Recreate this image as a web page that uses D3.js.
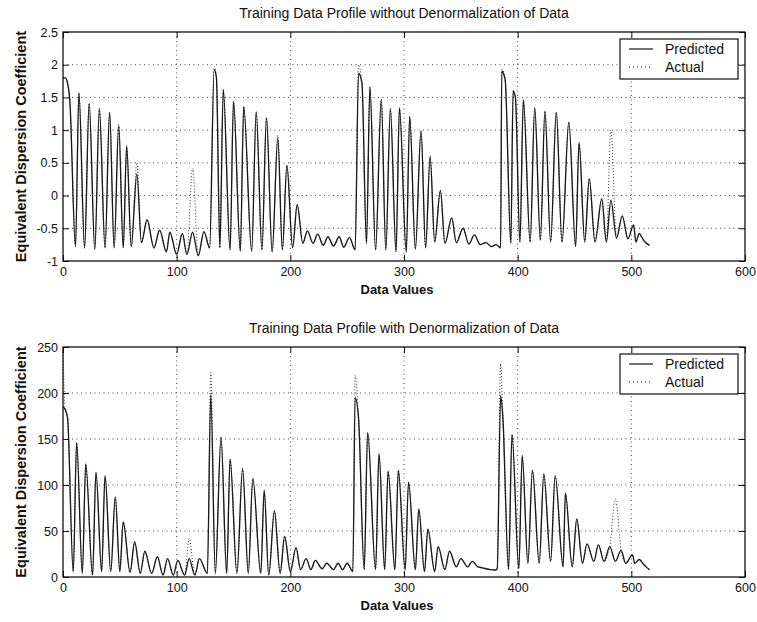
<!DOCTYPE html>
<html>
<head>
<meta charset="utf-8">
<script src="https://cdn.jsdelivr.net/npm/d3@7"></script>
<style>
  body { margin: 0; background: #fff; }
  text { font-family: "Liberation Sans", Arial, Helvetica, sans-serif; fill: #111; }
</style>
</head>
<body>
<svg id="chart" width="757" height="622"></svg>
<script>
// data values (x = data index of each vertex)
const xTicks = [0, 100, 200, 300, 400, 500, 600]
const topYTicks = [-1, -0.5, 0, 0.5, 1, 1.5, 2, 2.5]
const botYTicks = [0, 50, 100, 150, 200, 250]
const legendNames = ["Predicted", "Actual"]

const topX = [0,2,4,6,11,14,19,23,28,32,37,41,45,49,53,56,60,65,69,74,80,85,91,94,100,105,109,114,119,124,129,
  133,135,138,141,147,150,156,159,166,170,175,179,184,189,193,197,202,206,211,215,220,224,229,233,238,243,247,252,257,
  260,263,267,270,275,280,284,288,293,296,302,305,310,315,319,323,327,332,336,342,346,352,357,362,367,372,377,381,385,
  386,389,394,396,398,402,405,411,415,420,424,429,434,439,445,451,454,459,463,468,474,478,482,487,492,497,502,504,507,509,512,516]
const topPredicted = [1.80,1.80,1.72,1.45,-0.78,1.57,-0.80,1.41,-0.82,1.33,-0.80,1.27,-0.80,1.08,-0.80,0.76,-0.78,0.33,-0.72,-0.37,-0.80,-0.53,-0.86,-0.56,-0.90,-0.58,-0.90,-0.56,-0.92,-0.55,-0.80,
  1.92,1.80,-0.80,1.62,-0.83,1.44,-0.85,1.36,-0.85,1.28,-0.83,1.19,-0.86,0.88,-0.83,0.46,-0.80,-0.14,-0.73,-0.54,-0.73,-0.59,-0.76,-0.63,-0.77,-0.63,-0.79,-0.64,-0.83,
  1.87,1.72,-0.73,1.66,-0.83,1.47,-0.83,1.33,-0.86,1.34,-0.86,1.21,-0.82,0.99,-0.80,0.60,-0.71,0.08,-0.73,-0.34,-0.72,-0.50,-0.74,-0.60,-0.75,-0.72,-0.78,-0.75,-0.80,
  1.90,1.77,-0.73,1.60,1.50,-0.71,1.46,-0.71,1.34,-0.68,1.29,-0.71,1.27,-0.71,1.12,-0.78,0.81,-0.71,0.26,-0.71,-0.05,-0.71,-0.07,-0.65,-0.31,-0.66,-0.45,-0.71,-0.58,-0.63,-0.71,-0.76]
const topActual = [1.80,1.80,1.72,1.45,-0.78,1.57,-0.80,1.41,-0.82,1.33,-0.80,1.27,-0.80,1.08,-0.80,0.76,-0.78,0.50,-0.72,-0.37,-0.80,-0.53,-0.86,-0.56,-0.90,-0.58,-0.90,0.42,-0.92,-0.55,-0.80,
  1.97,1.80,-0.80,1.62,-0.83,1.44,-0.85,1.36,-0.85,1.28,-0.83,1.19,-0.86,0.92,-0.83,0.46,-0.80,-0.14,-0.73,-0.54,-0.73,-0.59,-0.76,-0.63,-0.77,-0.63,-0.79,-0.64,-0.83,
  2.00,1.72,-0.73,1.66,-0.83,1.47,-0.83,1.33,-0.86,1.34,-0.86,1.21,-0.82,0.99,-0.80,0.60,-0.71,0.08,-0.73,-0.34,-0.72,-0.50,-0.74,-0.60,-0.75,-0.72,-0.78,-0.75,-0.80,
  1.93,1.77,-0.73,1.60,1.50,-0.71,1.46,-0.71,1.34,-0.68,1.29,-0.71,1.27,-0.71,1.12,-0.78,0.81,-0.71,0.26,-0.71,-0.05,-0.71,1.00,-0.65,-0.31,-0.66,-0.45,-0.71,-0.58,-0.63,-0.71,-0.76]

const botX = [0,2,4,9,12,17,20,26,29,34,37,42,46,50,53,59,63,68,72,78,83,88,92,97,101,107,111,116,120,127,
  130,134,139,144,147,153,158,163,167,174,177,181,186,191,195,200,205,209,214,218,222,228,232,238,242,246,250,255,
  257,260,265,268,275,278,283,286,292,295,301,304,310,313,318,321,327,330,336,340,346,350,356,360,365,369,372,376,380,382,
  385,387,392,395,401,404,409,413,419,423,429,433,440,442,448,452,457,461,467,471,476,481,486,491,495,501,503,507,510,513,516]
const botPredicted = [185,182,173,6,146,4,123,2,114,6,110,6,87,6,60,5,38,4,28,4,22,2,20,2,18,2,20,2,20,4,
  199,4,152,4,128,4,118,4,107,4,94,2,72,4,44,6,32,8,20,8,18,9,15,8,15,8,15,6,
  195,173,8,157,8,134,8,115,8,116,8,103,8,74,6,52,6,33,8,28,11,20,11,17,11,10,9,8,7.6,9,
  197,173,8,155,9,132,15,116,15,112,17,110,11,91,11,63,15,36,17,35,17,33,17,29,15,24,15,19,15,11,8]
const botActual = [245,182,173,6,146,4,123,2,114,6,110,6,87,6,60,5,38,4,28,4,22,2,20,2,18,2,42,2,20,4,
  222,4,152,4,128,4,118,4,107,4,94,2,72,4,44,6,32,8,20,8,18,9,15,8,15,8,15,6,
  219,173,8,157,8,134,8,115,8,116,8,103,8,74,6,52,6,33,8,28,11,20,11,17,11,10,9,8,7.6,9,
  232,173,8,155,9,132,15,116,15,112,17,110,11,91,11,63,15,36,17,35,17,33,85,29,15,24,15,19,15,11,8]

const svg = d3.select("#chart")
const x = d3.scaleLinear().domain([0, 600]).range([63, 745])

function drawPanel(p){
  const y = d3.scaleLinear().domain(p.yDomain).range([p.bottom, p.top])
  const g = svg.append("g")

  // dotted grid
  g.selectAll(".gx").data(xTicks.slice(1, -1)).enter().append("line")
    .attr("x1", d => x(d)).attr("x2", d => x(d))
    .attr("y1", p.top).attr("y2", p.bottom)
    .attr("stroke", "#444").attr("stroke-width", 1).attr("stroke-dasharray", "1,3.5")
  g.selectAll(".gy").data(p.yTicks.slice(1, -1)).enter().append("line")
    .attr("x1", x(0)).attr("x2", x(600))
    .attr("y1", d => y(d)).attr("y2", d => y(d))
    .attr("stroke", "#444").attr("stroke-width", 1).attr("stroke-dasharray", "1,3.5")

  // series
  const pts = (xs, ys) => xs.map((v, i) => [v, ys[i]])
  const line = d3.line().x(d => x(d[0])).y(d => y(d[1])).curve(d3.curveMonotoneX)
  g.append("path").attr("d", line(pts(p.xs, p.actual)))
    .attr("fill", "none").attr("stroke", "#333").attr("stroke-width", 1)
    .attr("stroke-dasharray", "1,2")
  g.append("path").attr("d", line(pts(p.xs, p.predicted)))
    .attr("fill", "none").attr("stroke", "#1a1a1a").attr("stroke-width", 1.35)

  // axes, ticks point inward
  const fmt = d => String(d)
  g.append("g").attr("transform", `translate(0,${p.bottom})`)
    .call(d3.axisBottom(x).tickValues(xTicks).tickSizeInner(-6).tickSizeOuter(0).tickPadding(6).tickFormat(fmt))
  g.append("g").attr("transform", `translate(0,${p.top})`)
    .call(d3.axisTop(x).tickValues(xTicks).tickSizeInner(-6).tickSizeOuter(0).tickFormat(""))
  g.append("g").attr("transform", `translate(${x(0)},0)`)
    .call(d3.axisLeft(y).tickValues(p.yTicks).tickSizeInner(-6).tickSizeOuter(0).tickPadding(5).tickFormat(fmt))
  g.append("g").attr("transform", `translate(${x(600)},0)`)
    .call(d3.axisRight(y).tickValues(p.yTicks).tickSizeInner(-6).tickSizeOuter(0).tickFormat(""))
  g.selectAll(".domain").remove()
  g.selectAll(".tick line").attr("stroke", "#111")
  g.selectAll(".tick text").attr("font-size", 12.5).attr("fill", "#111")
    .style("font-family", "'Liberation Sans', Arial, sans-serif")

  g.append("rect").attr("x", x(0)).attr("y", p.top)
    .attr("width", x(600) - x(0)).attr("height", p.bottom - p.top)
    .attr("fill", "none").attr("stroke", "#111").attr("stroke-width", 1.3)

  // titles
  g.append("text").attr("x", 404).attr("y", p.top - 14).attr("text-anchor", "middle")
    .attr("font-size", 14).text(p.title)
  g.append("text").attr("x", 397).attr("y", p.bottom + 33).attr("text-anchor", "middle")
    .attr("font-size", 13).attr("font-weight", "bold").text("Data Values")
  g.append("text").attr("transform", `translate(26,${(p.top + p.bottom) / 2}) rotate(-90)`)
    .attr("text-anchor", "middle").attr("font-size", 14.5).attr("font-weight", "bold")
    .text("Equivalent Dispersion Coefficient")

  // legend
  const lg = g.append("g").attr("transform", `translate(620,${p.top + 7})`)
  lg.append("rect").attr("width", 118).attr("height", 40)
    .attr("fill", "#fff").attr("stroke", "#111").attr("stroke-width", 1.2)
  legendNames.forEach((name, i) => {
    lg.append("line").attr("x1", 9).attr("x2", 33).attr("y1", 10 + i * 18).attr("y2", 10 + i * 18)
      .attr("stroke", "#111").attr("stroke-width", i == 0 ? 1.2 : 1)
      .attr("stroke-dasharray", i == 0 ? null : "1,3")
    lg.append("text").attr("x", 45).attr("y", 15 + i * 18).attr("font-size", 14).text(name)
  })
}

drawPanel({
  title: "Training Data Profile without Denormalization of Data",
  yDomain: [-1, 2.5], yTicks: topYTicks, top: 32, bottom: 261,
  xs: topX, predicted: topPredicted, actual: topActual
})
drawPanel({
  title: "Training Data Profile with Denormalization of Data",
  yDomain: [0, 250], yTicks: botYTicks, top: 347, bottom: 577,
  xs: botX, predicted: botPredicted, actual: botActual
})
</script>
</body>
</html>
